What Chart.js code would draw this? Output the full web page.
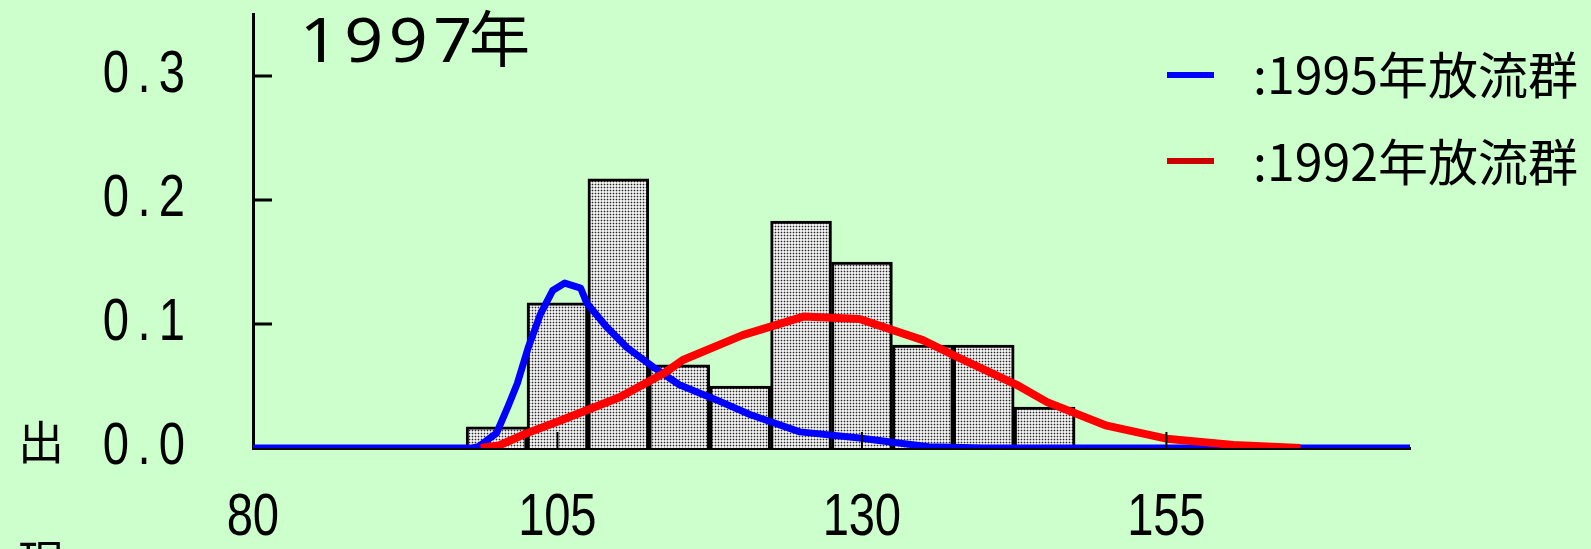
<!DOCTYPE html>
<html>
<head>
<meta charset="utf-8">
<script src="https://cdn.jsdelivr.net/npm/chart.js@4/dist/chart.umd.min.js"></script>
<style>
  html, body { margin: 0; padding: 0; background: #ccffcc; }
  canvas { display: block; }
</style>
</head>
<body>
<canvas id="chart" width="1591" height="549"></canvas>
<script>
// Chart text
const titleYear = "1997"
const titleUnit = "年"
const axisTitle = "出現率"
const legendLabels = [":1995年放流群", ":1992年放流群"]
const legendColors = ["#0000ff", "#cc0000"]

// Tick labels
const xTicks = [80, 105, 130, 155]
const yTicks = [0, 0.1, 0.2, 0.3]

// Histogram (class centres, relative frequency)
const binCenters = [100, 105, 110, 115, 120, 125, 130, 135, 140, 145]
const binFreq = [0.017, 0.117, 0.217, 0.067, 0.05, 0.183, 0.15, 0.083, 0.083, 0.033]

// 1995 group curve (blue)
const blueX = [80, 98, 98.5, 100, 101, 101.7, 102.6, 103.6, 104.6, 105.6, 106.9, 107.4, 109, 110.7, 112.9, 115, 118, 120.8, 124.9, 129.8, 133, 135.5, 140, 175]
const blueY = [0, 0, 0.001, 0.012, 0.035, 0.052, 0.081, 0.108, 0.127, 0.133, 0.129, 0.117, 0.098, 0.081, 0.065, 0.051, 0.039, 0.027, 0.013, 0.008, 0.004, 0.001, 0, 0]

// 1992 group curve (red)
const redX = [98.7, 100.2, 102.5, 105.2, 110.1, 113.7, 115.3, 120.2, 125.2, 129.8, 135, 137.7, 142.7, 145.2, 150.1, 155, 160.5, 166]
const redY = [0, 0.002, 0.012, 0.022, 0.041, 0.06, 0.071, 0.091, 0.106, 0.104, 0.087, 0.074, 0.051, 0.037, 0.018, 0.0075, 0.0025, 0]

const toPoints = (xs, ys) => xs.map((x, i) => ({ x, y: ys[i] }))

// Dotted halftone fill for the bars
function makePattern() {
  const p = document.createElement("canvas")
  p.width = 3
  p.height = 3
  const pc = p.getContext("2d")
  pc.fillStyle = "#f0f0f0"
  pc.fillRect(0, 0, 3, 3)
  pc.fillStyle = "#b8b8b8"
  pc.fillRect(0, 1, 3, 1)
  pc.fillRect(1, 0, 1, 3)
  pc.fillStyle = "#262626"
  pc.fillRect(1, 1, 1, 1)
  return document.getElementById("chart").getContext("2d").createPattern(p, "repeat")
}

const cjkFont = "'Noto Sans CJK JP', 'Noto Sans', sans-serif"
const tickFont = "59px 'Liberation Sans', Arimo, sans-serif"

// Fixed-pitch text (each character in its own cell, stretched by sx)
function drawCellText(ctx, text, cx, cy, pitch, sx) {
  const chars = Array.from(text)
  const start = cx - (chars.length * pitch) / 2
  chars.forEach((ch, i) => {
    ctx.save()
    ctx.translate(start + pitch * (i + 0.5), cy)
    ctx.scale(sx, 1)
    ctx.fillText(ch, 0, 0)
    ctx.restore()
  })
}

// Inward ticks, tick labels, title, legend and vertical axis title
const decorations = {
  id: "decorations",
  afterDatasetsDraw(chart) {
    const { ctx, chartArea, scales: { x, y } } = chart
    ctx.save()
    ctx.strokeStyle = "#000"
    ctx.lineWidth = 3
    yTicks.forEach(v => {
      if (v === 0) return
      const py = y.getPixelForValue(v)
      ctx.beginPath()
      ctx.moveTo(chartArea.left, py)
      ctx.lineTo(chartArea.left + 19, py)
      ctx.stroke()
    })
    ctx.lineWidth = 2
    xTicks.forEach(v => {
      if (v === x.min) return
      const px = x.getPixelForValue(v)
      ctx.beginPath()
      ctx.moveTo(px, chartArea.bottom)
      ctx.lineTo(px, chartArea.bottom - 16)
      ctx.stroke()
    })

    // tick labels
    ctx.fillStyle = "#000"
    ctx.font = tickFont
    ctx.textAlign = "center"
    ctx.textBaseline = "middle"
    yTicks.forEach(v => {
      const label = v.toFixed(1)
      drawCellText(ctx, label, chartArea.left - 67 - (label.length * 28) / 2, y.getPixelForValue(v), 28, 0.8)
    })
    xTicks.forEach(v => {
      drawCellText(ctx, String(v), x.getPixelForValue(v), chartArea.bottom + 71, 26, 0.8)
    })

    // title
    ctx.textBaseline = "alphabetic"
    ctx.font = "62px 'Noto Sans', sans-serif"
    drawCellText(ctx, titleYear, 386, 62, 44.5, 1.1)
    ctx.textAlign = "left"
    ctx.font = "61px " + cjkFont
    ctx.fillText(titleUnit, 469, 62)

    // legend
    ctx.font = "50px " + cjkFont
    legendLabels.forEach((label, i) => {
      ctx.fillStyle = legendColors[i]
      ctx.fillRect(1167, 72 + i * 86, 47, 6)
      ctx.fillStyle = "#000"
      ctx.fillText(label, 1253, 94 + i * 87)
    })

    // vertical axis title
    ctx.font = "46px " + cjkFont
    ctx.textAlign = "center"
    ctx.textBaseline = "middle"
    Array.from(axisTitle).forEach((ch, i) => {
      ctx.fillText(ch, 41, 442 + i * 120)
    })
    ctx.restore()
  }
}

new Chart(document.getElementById("chart"), {
  type: "line",
  data: {
    datasets: [
      {
        type: "line",
        label: legendLabels[1],
        data: toPoints(redX, redY),
        borderColor: "#ff0000",
        borderWidth: 8,
        borderJoinStyle: "round",
        pointRadius: 0,
        tension: 0,
        fill: false,
        order: 1
      },
      {
        type: "line",
        label: legendLabels[0],
        data: toPoints(blueX, blueY),
        borderColor: "#0000ff",
        borderWidth: 7,
        borderJoinStyle: "round",
        pointRadius: 0,
        tension: 0,
        fill: false,
        order: 2
      },
      {
        type: "bar",
        label: "histogram",
        data: toPoints(binCenters, binFreq),
        backgroundColor: makePattern(),
        borderColor: "#000",
        borderWidth: 3,
        borderSkipped: "start",
        barPercentage: 1,
        categoryPercentage: 1,
        order: 3
      }
    ]
  },
  options: {
    responsive: false,
    animation: false,
    layout: { padding: { top: 14, right: 181, left: 0, bottom: 0 } },
    plugins: {
      legend: { display: false },
      tooltip: { enabled: false }
    },
    scales: {
      x: {
        type: "linear",
        min: 80,
        max: 175,
        offset: false,
        grid: { display: false, drawTicks: false },
        border: { color: "#000", width: 3 },
        ticks: { display: false },
        afterBuildTicks: scale => { scale.ticks = xTicks.map(value => ({ value })) },
        afterFit: scale => {
          scale.height = 101
          scale.paddingLeft = 0
          scale.paddingRight = 0
        }
      },
      y: {
        min: 0,
        max: 0.35,
        grid: { display: false, drawTicks: false },
        border: { color: "#000", width: 3 },
        ticks: { display: false },
        afterBuildTicks: scale => { scale.ticks = yTicks.map(value => ({ value })) },
        afterFit: scale => {
          scale.width = 253
          scale.paddingTop = 0
          scale.paddingBottom = 0
        }
      }
    }
  },
  plugins: [decorations]
})
</script>
</body>
</html>
